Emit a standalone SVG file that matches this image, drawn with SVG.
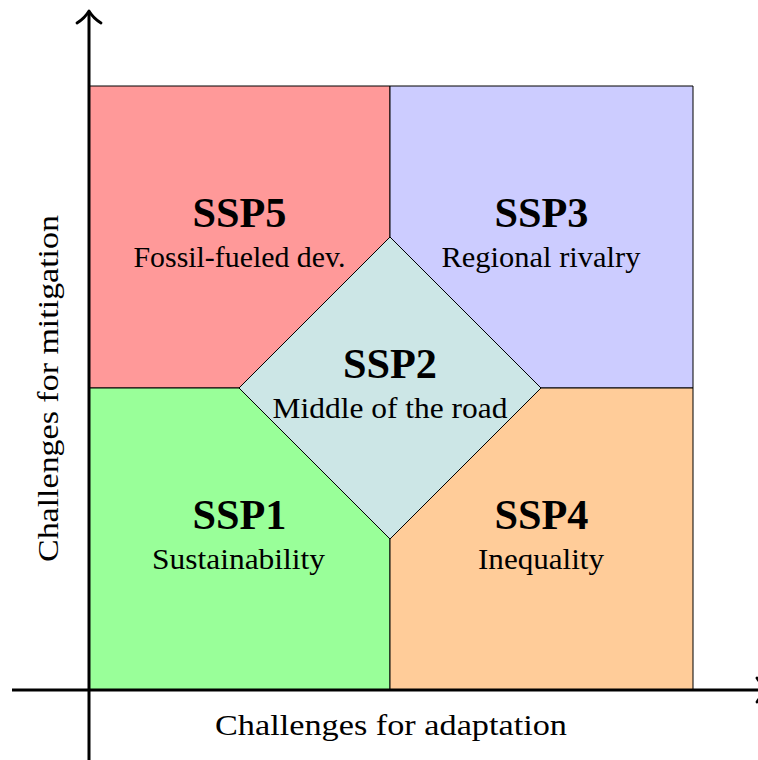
<svg xmlns="http://www.w3.org/2000/svg" width="758" height="760" viewBox="0 0 758 760">
<style>
.reg{stroke:#000;stroke-width:1;stroke-linejoin:miter}
.t{font-family:"Liberation Serif","DejaVu Serif",serif;fill:#000;text-anchor:middle}
.b{font-weight:bold;font-size:42px}
.s{font-size:29.5px}
.ax{stroke:#000;stroke-width:3;fill:none}
.ah{stroke:#000;stroke-width:2.8;fill:none;stroke-linecap:round;stroke-linejoin:round}
</style>
<rect width="758" height="760" fill="#fff"/>
<g id="ssp5">
<polygon class="reg" fill="#FF9999" points="89,86 390,86 390,237 239,388 89,388"/>
<text class="t b" x="239.5" y="227" textLength="94" lengthAdjust="spacingAndGlyphs">SSP5</text>
<text class="t s" x="239.5" y="267" textLength="212" lengthAdjust="spacingAndGlyphs">Fossil-fueled dev.</text>
</g>
<g id="ssp3">
<polygon class="reg" fill="#CCCCFF" points="390,86 693,86 693,388 541,388 390,237"/>
<text class="t b" x="541.5" y="227" textLength="94" lengthAdjust="spacingAndGlyphs">SSP3</text>
<text class="t s" x="541" y="267" textLength="199" lengthAdjust="spacingAndGlyphs">Regional rivalry</text>
</g>
<g id="ssp1">
<polygon class="reg" fill="#99FF99" points="89,388 239,388 390,539 390,690 89,690"/>
<text class="t b" x="239.5" y="529" textLength="94" lengthAdjust="spacingAndGlyphs">SSP1</text>
<text class="t s" x="238.5" y="569" textLength="173" lengthAdjust="spacingAndGlyphs">Sustainability</text>
</g>
<g id="ssp4">
<polygon class="reg" fill="#FFCC99" points="541,388 693,388 693,690 390,690 390,539"/>
<text class="t b" x="541.5" y="529" textLength="94" lengthAdjust="spacingAndGlyphs">SSP4</text>
<text class="t s" x="541" y="569" textLength="126" lengthAdjust="spacingAndGlyphs">Inequality</text>
</g>
<g id="ssp2">
<polygon class="reg" fill="#CCE6E6" points="390,237 541,388 390,539 239,388"/>
<text class="t b" x="390" y="378" textLength="94" lengthAdjust="spacingAndGlyphs">SSP2</text>
<text class="t s" x="390" y="418" textLength="235" lengthAdjust="spacingAndGlyphs">Middle of the road</text>
</g>
<g id="axes">
<line class="ax" x1="12" y1="690" x2="768" y2="690"/>
<path class="ah" d="M757,678 Q762,686 769,690 Q762,694 757,702"/>
<line class="ax" x1="89" y1="760" x2="89" y2="13"/>
<path class="ah" d="M77,23 Q85,18 89,11 Q93,18 101,23"/>
</g>
<g id="labels">
<text class="t s" x="391" y="735" textLength="352" lengthAdjust="spacingAndGlyphs">Challenges for adaptation</text>
<text class="t s" transform="translate(58,388.5) rotate(-90)" x="0" y="0" textLength="347" lengthAdjust="spacingAndGlyphs">Challenges for mitigation</text>
</g>
</svg>
